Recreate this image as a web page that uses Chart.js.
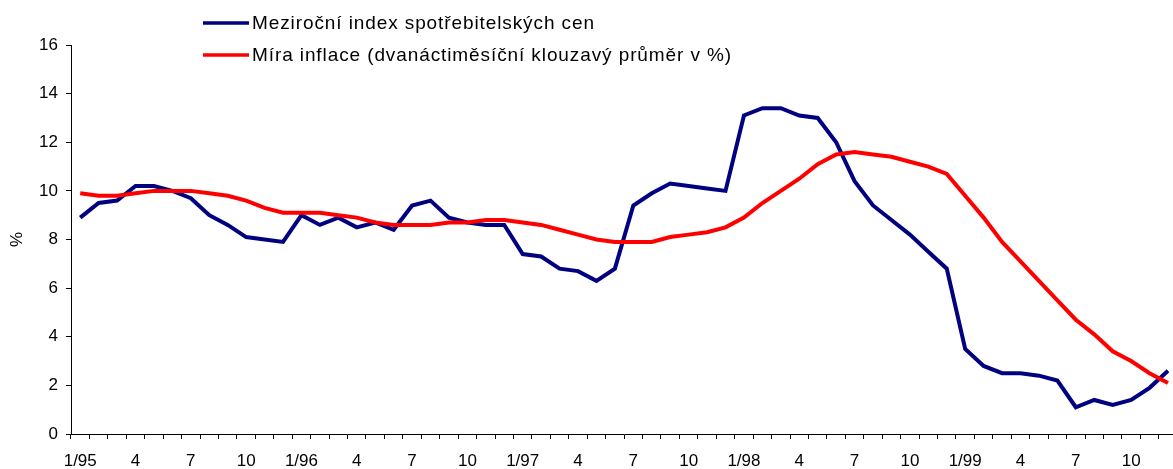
<!DOCTYPE html>
<html>
<head>
<meta charset="utf-8">
<script src="https://cdn.jsdelivr.net/npm/chart.js@4/dist/chart.umd.min.js"></script>
<style>
    html, body { margin: 0; padding: 0; background: #fff; overflow: hidden; }
    #wrap { position: relative; width: 1180px; height: 471px; }
</style>
</head>
<body>
<div id="wrap"><canvas id="myChart" width="1180" height="471"></canvas></div>
<script>
// months 1/95 .. 12/99
var categories = [
    '1/95','2/95','3/95','4/95','5/95','6/95','7/95','8/95','9/95','10/95','11/95','12/95',
    '1/96','2/96','3/96','4/96','5/96','6/96','7/96','8/96','9/96','10/96','11/96','12/96',
    '1/97','2/97','3/97','4/97','5/97','6/97','7/97','8/97','9/97','10/97','11/97','12/97',
    '1/98','2/98','3/98','4/98','5/98','6/98','7/98','8/98','9/98','10/98','11/98','12/98',
    '1/99','2/99','3/99','4/99','5/99','6/99','7/99','8/99','9/99','10/99','11/99','12/99'
];

// Meziroční index spotřebitelských cen
var cpiYoY = [
    8.9, 9.5, 9.6, 10.2, 10.2, 10.0, 9.7, 9.0, 8.6, 8.1, 8.0, 7.9,
    9.0, 8.6, 8.9, 8.5, 8.7, 8.4, 9.4, 9.6, 8.9, 8.7, 8.6, 8.6,
    7.4, 7.3, 6.8, 6.7, 6.3, 6.8, 9.4, 9.9, 10.3, 10.2, 10.1, 10.0,
    13.1, 13.4, 13.4, 13.1, 13.0, 12.0, 10.4, 9.4, 8.8, 8.2, 7.5, 6.8,
    3.5, 2.8, 2.5, 2.5, 2.4, 2.2, 1.1, 1.4, 1.2, 1.4, 1.9, 2.6
];

// Míra inflace (12měsíční klouzavý průměr)
var inflationAvg = [
    9.9, 9.8, 9.8, 9.9, 10.0, 10.0, 10.0, 9.9, 9.8, 9.6, 9.3, 9.1,
    9.1, 9.1, 9.0, 8.9, 8.7, 8.6, 8.6, 8.6, 8.7, 8.7, 8.8, 8.8,
    8.7, 8.6, 8.4, 8.2, 8.0, 7.9, 7.9, 7.9, 8.1, 8.2, 8.3, 8.5,
    8.9, 9.5, 10.0, 10.5, 11.1, 11.5, 11.6, 11.5, 11.4, 11.2, 11.0, 10.7,
    9.8, 8.9, 7.9, 7.1, 6.3, 5.5, 4.7, 4.1, 3.4, 3.0, 2.5, 2.1
];

var yTicks = [0, 2, 4, 6, 8, 10, 12, 14, 16];

Chart.defaults.font.family = 'Arial, "Liberation Sans", sans-serif';
Chart.defaults.color = '#000';

// legend drawn over the plot, two rows, left part of the top
var lineLegend = {
    id: 'lineLegend',
    afterDraw: function(chart) {
        var ctx = chart.ctx;
        ctx.save();
        ctx.font = '19px Arial, "Liberation Sans", sans-serif';
        ctx.letterSpacing = '0.9px';
        ctx.textBaseline = 'middle';
        chart.data.datasets.forEach(function(ds, i) {
            var y = 23 + i * 32;
            ctx.strokeStyle = ds.borderColor;
            ctx.lineWidth = 3.5;
            ctx.beginPath();
            ctx.moveTo(203, y);
            ctx.lineTo(249, y);
            ctx.stroke();
            ctx.fillStyle = '#000';
            ctx.fillText(ds.label, 252, y + 1);
        });
        ctx.restore();
    }
};

var ctx = document.getElementById('myChart').getContext('2d');
var chart = new Chart(ctx, {
    type: 'line',
    data: {
        labels: categories,
        datasets: [{
            label: 'Meziroční index spotřebitelských cen',
            data: cpiYoY,
            borderColor: '#000080',
            backgroundColor: '#000080',
            borderWidth: 4,
            pointRadius: 0,
            tension: 0,
            order: 1
        }, {
            label: 'Míra inflace (dvanáctiměsíční klouzavý průměr v %)',
            data: inflationAvg,
            borderColor: '#ff0000',
            backgroundColor: '#ff0000',
            borderWidth: 4,
            pointRadius: 0,
            tension: 0,
            order: 0
        }]
    },
    options: {
        responsive: false,
        animation: false,
        devicePixelRatio: 1,
        layout: { padding: { top: 45, left: 0, right: 0, bottom: 0 } },
        plugins: {
            legend: { display: false },
            tooltip: { enabled: false }
        },
        scales: {
            x: {
                type: 'category',
                offset: true,
                grid: { offset: true, drawOnChartArea: false, drawTicks: true, tickLength: 5, color: '#000' },
                border: { display: true, color: '#000', width: 1 },
                ticks: {
                    autoSkip: false,
                    maxRotation: 0,
                    padding: 12,
                    font: { size: 17 },
                    callback: function(value, index) {
                        var parts = categories[index].split('/');
                        if (index % 3 !== 0) return '';
                        return parts[0] === '1' ? categories[index] : parts[0];
                    }
                },
                afterFit: function(scale) { scale.height = 37; }
            },
            y: {
                min: yTicks[0],
                max: yTicks[yTicks.length - 1],
                grid: { drawOnChartArea: false, drawTicks: true, tickLength: 5, color: '#000' },
                border: { display: true, color: '#000', width: 1 },
                ticks: { stepSize: 2, padding: 8, font: { size: 17 } },
                title: { display: true, text: '%', font: { size: 17 }, padding: { top: 7, bottom: 0 } },
                afterFit: function(scale) { scale.width = 71; }
            }
        }
    },
    plugins: [lineLegend]
});
</script>
</body>
</html>
